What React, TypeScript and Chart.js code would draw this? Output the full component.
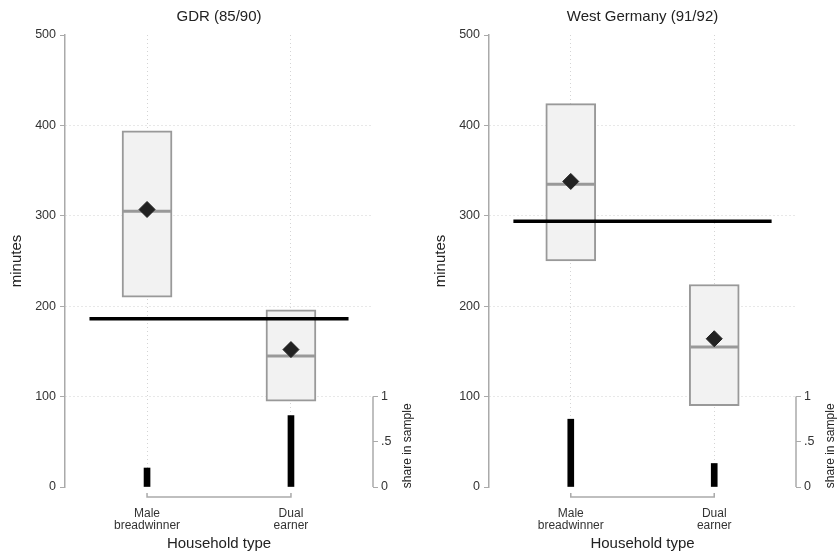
import React, { useEffect, useRef } from 'react';
import { Chart, registerables } from 'chart.js';

Chart.register(...registerables);

const FAMILY = '"Liberation Sans", Arial, sans-serif';
Chart.defaults.font.family = FAMILY;

// ---- data ----
const categories = [['Male', 'breadwinner'], ['Dual', 'earner']];
const categoryPositions = [1, 2];

const gdrTitle = 'GDR (85/90)';
const gdrBoxLow = [210, 95];
const gdrBoxHigh = [394, 196];
const gdrMedian = [305, 145];
const gdrMean = [307, 152];
const gdrOverallMean = 186;
const gdrShare = [0.21, 0.79];

const wgTitle = 'West Germany (91/92)';
const wgBoxLow = [250, 90];
const wgBoxHigh = [424, 224];
const wgMedian = [335, 155];
const wgMean = [338, 164];
const wgOverallMean = 294;
const wgShare = [0.75, 0.26];

const yTicks = [0, 100, 200, 300, 400, 500];
const shareTicks = [0, 0.5, 1];
const shareTickLabels = ['0', '.5', '1'];
const overallSpan = [0.6, 2.4];
const xRange = [0.43, 2.57];

type PanelProps = {
  title: string;
  low: number[];
  high: number[];
  median: number[];
  mean: number[];
  overall: number;
  share: number[];
  width: number;
  leftW: number;
  rightW: number;
};

function Panel(p: PanelProps) {
  const ref = useRef<HTMLCanvasElement | null>(null);
  useEffect(() => {
    if (!ref.current) return;
    const annot = {
      id: 'annot',
      afterDraw(chart: any) {
        const { ctx, chartArea, scales } = chart;
        const { left, right, top, bottom } = chartArea;
        const x = scales.x;
        const y2 = scales.y2;
        ctx.save();
        ctx.fillStyle = '#222';
        ctx.textAlign = 'center';
        ctx.textBaseline = 'middle';
        ctx.font = `15px ${FAMILY}`;
        ctx.fillText(p.title, (left + right) / 2, 17);
        ctx.fillText('Household type', (left + right) / 2, bottom + 57);
        ctx.save();
        ctx.translate(left - 48, (top + bottom) / 2);
        ctx.rotate(-Math.PI / 2);
        ctx.fillText('minutes', 0, 0);
        ctx.restore();
        // share axis line
        const s0 = y2.getPixelForValue(0);
        const s1 = y2.getPixelForValue(1);
        ctx.strokeStyle = '#aaa';
        ctx.lineWidth = 1.5;
        ctx.beginPath();
        ctx.moveTo(right, s0);
        ctx.lineTo(right, s1);
        ctx.stroke();
        ctx.save();
        ctx.font = `12px ${FAMILY}`;
        ctx.translate(right + 35, (s0 + s1) / 2 + 4);
        ctx.rotate(-Math.PI / 2);
        ctx.fillText('share in sample', 0, 0);
        ctx.restore();
        // x bracket
        const xb = bottom + 10;
        const x1 = x.getPixelForValue(categoryPositions[0]);
        const x2 = x.getPixelForValue(categoryPositions[categoryPositions.length - 1]);
        ctx.beginPath();
        ctx.moveTo(x1, xb - 4);
        ctx.lineTo(x1, xb);
        ctx.lineTo(x2, xb);
        ctx.lineTo(x2, xb - 4);
        ctx.stroke();
        ctx.restore();
      },
    };

    const tickFont = { family: FAMILY, size: 12.5 };
    const chart = new Chart(ref.current, {
      type: 'scatter',
      data: {
        datasets: [
          {
            type: 'bar',
            data: categoryPositions.map((c, i) => ({ x: c, y: [p.low[i], p.high[i]] })),
            backgroundColor: '#f2f2f2',
            borderColor: '#999',
            borderWidth: 2,
            borderSkipped: false,
            barThickness: 50,
            grouped: false,
            yAxisID: 'y',
            order: 5,
          } as any,
          {
            type: 'bar',
            data: categoryPositions.map((c, i) => ({ x: c, y: p.share[i] })),
            backgroundColor: '#000',
            borderWidth: 0,
            barThickness: 6,
            grouped: false,
            yAxisID: 'y2',
            order: 4,
          } as any,
          {
            type: 'scatter',
            data: categoryPositions.map((c, i) => ({ x: c, y: p.median[i] })),
            pointStyle: 'line',
            radius: 24,
            borderWidth: 3,
            borderColor: '#999',
            yAxisID: 'y',
            order: 3,
          } as any,
          {
            type: 'line',
            data: overallSpan.map((v) => ({ x: v, y: p.overall })),
            borderColor: '#000',
            borderWidth: 3.5,
            pointRadius: 0,
            yAxisID: 'y',
            order: 2,
          } as any,
          {
            type: 'scatter',
            data: categoryPositions.map((c, i) => ({ x: c, y: p.mean[i] })),
            pointStyle: 'rectRot',
            radius: 8,
            backgroundColor: '#222',
            borderColor: '#222',
            borderWidth: 1,
            yAxisID: 'y',
            order: 1,
          } as any,
        ],
      },
      options: {
        animation: false,
        responsive: false,
        devicePixelRatio: 1,
        events: [],
        layout: { padding: { top: 35, left: 0, right: 0, bottom: 0 } },
        plugins: {
          legend: { display: false },
          tooltip: { enabled: false },
          title: { display: false },
        },
        scales: {
          x: {
            type: 'linear',
            min: xRange[0],
            max: xRange[1],
            offset: false,
            afterBuildTicks: (s: any) => {
              s.ticks = categoryPositions.map((v) => ({ value: v }));
            },
            afterFit: (s: any) => {
              s.height = 72;
            },
            grid: { offset: false, drawTicks: false, color: '#d4d4d4', lineWidth: 1 },
            border: { display: false, dash: [1, 3] },
            ticks: {
              padding: 21,
              font: { family: FAMILY, size: 12, lineHeight: 1.0 },
              color: '#333',
              maxRotation: 0,
              autoSkip: false,
              callback: (_v: any, i: number) => categories[i],
            },
          },
          y: {
            type: 'linear',
            position: 'left',
            min: 0,
            max: 500,
            afterBuildTicks: (s: any) => {
              s.ticks = yTicks.map((v) => ({ value: v }));
            },
            afterFit: (s: any) => {
              s.width = p.leftW;
            },
            grid: {
              color: (c: any) =>
                c.tick && (c.tick.value === 0 || c.tick.value === 500) ? 'rgba(0,0,0,0)' : '#d0d0d0',
              tickColor: '#aaa',
              tickLength: 5,
              lineWidth: 1,
            },
            border: { display: true, color: '#aaa', width: 1.5, dash: [1, 3] },
            ticks: { padding: 4, font: tickFont, color: '#333', autoSkip: false },
          },
          y2: {
            type: 'linear',
            position: 'right',
            min: 0,
            max: 5,
            afterBuildTicks: (s: any) => {
              s.ticks = shareTicks.map((v) => ({ value: v }));
            },
            afterFit: (s: any) => {
              s.width = p.rightW;
            },
            grid: { drawOnChartArea: false, color: '#aaa', tickLength: 5 },
            border: { display: false },
            ticks: {
              padding: 3,
              font: tickFont,
              color: '#333',
              autoSkip: false,
              callback: (_v: any, i: number) => shareTickLabels[i],
            },
          },
        },
      } as any,
      plugins: [annot],
    });
    return () => chart.destroy();
  }, []);
  return <canvas ref={ref} width={p.width} height={559} style={{ display: 'block' }} />;
}

export default function App() {
  return (
    <div
      style={{
        position: 'absolute',
        left: 0,
        top: 0,
        width: 837,
        height: 559,
        display: 'flex',
        background: '#fff',
      }}
    >
      <Panel
        title={gdrTitle}
        low={gdrBoxLow}
        high={gdrBoxHigh}
        median={gdrMedian}
        mean={gdrMean}
        overall={gdrOverallMean}
        share={gdrShare}
        width={418}
        leftW={65}
        rightW={45}
      />
      <Panel
        title={wgTitle}
        low={wgBoxLow}
        high={wgBoxHigh}
        median={wgMedian}
        mean={wgMean}
        overall={wgOverallMean}
        share={wgShare}
        width={419}
        leftW={71}
        rightW={41}
      />
    </div>
  );
}
